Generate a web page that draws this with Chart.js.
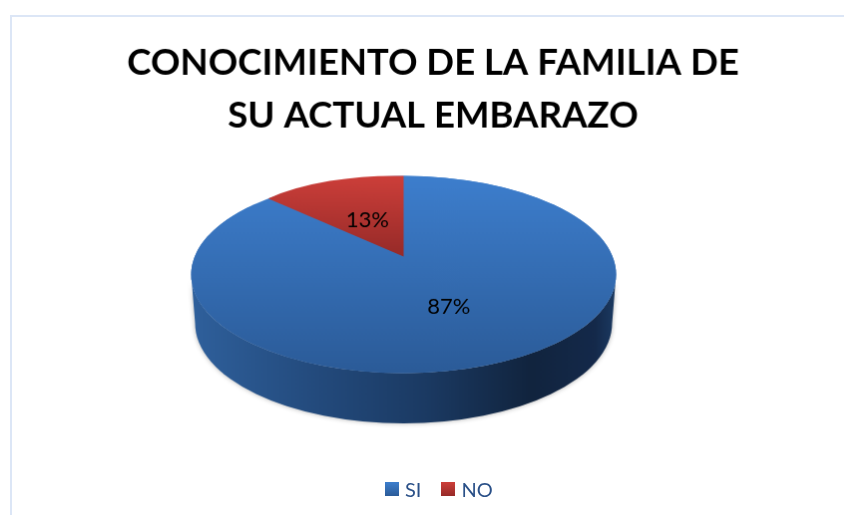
<!DOCTYPE html>
<html>
<head>
<meta charset="utf-8">
<title>Conocimiento de la familia</title>
<script src="https://cdn.jsdelivr.net/npm/chart.js@4"></script>
<style>
    html, body { margin: 0; padding: 0; background: #fff; overflow: hidden; }
    #grafico { position: absolute; left: 10px; top: 15px; border-left: 2px solid #dce6f6; border-top: 2px solid #dce6f6; }
    #leyenda { position: absolute; left: 385px; top: 477px; display: flex; font: 20px/24px Lato; color: #2a5088; }
    #leyenda span { display: flex; align-items: center; margin-right: 20px; }
    #leyenda i { display: block; width: 14px; height: 14px; margin-right: 6px; }
</style>
</head>
<body>
<canvas id="grafico" width="844" height="500"></canvas>
<div id="leyenda"></div>
<script>
// Datos del gráfico
const categorias = ['SI', 'NO'];
const valores = [87, 13];
const tituloLineas = ['CONOCIMIENTO DE LA FAMILIA DE', 'SU ACTUAL EMBARAZO'];

// Colores (arriba, abajo) de cada porción
const coloresPorcion = [['#3d7ecd', '#2b5b98'], ['#cd3f3a', '#962a28']];

// Vista en perspectiva: elipse superior, pared lateral y desplazamiento del centro
const vista = { cx: 392.5, cy: 258.5, rx: 213, ry: 99, k: 0.182, baseRx: 209, baseRy: 100.5, baseCy: 307.5 };

// Distancia de cada etiqueta al centro de la porción
const radioEtiqueta = [0.5, 0.47];

// Círculo unidad -> elipse, con el centro desplazado por la perspectiva
function proyectar(u, v) {
    const den = 1 - vista.k * v;
    return {
        x: vista.cx + vista.rx * u * Math.sqrt(1 - vista.k * vista.k) / den,
        y: vista.cy + vista.ry * (v - vista.k) / den
    };
}

function gradientePorcion(chart, i) {
    const area = chart.chartArea;
    if (!area) return coloresPorcion[i][0];
    const y = (area.top + area.bottom) / 2;
    const r = Math.min(area.width, area.height) / 2;
    const g = chart.ctx.createLinearGradient(0, y - r, 0, i === 0 ? y + r : y);
    g.addColorStop(0, coloresPorcion[i][0]);
    g.addColorStop(1, coloresPorcion[i][1]);
    return g;
}

// Transformación de cada porción según sus ángulos
function aplicarMatriz(ctx, arc) {
    const R = arc.outerRadius;
    let a, b, c, d, x0, y0;
    if (arc.circumference > Math.PI) {
        a = vista.rx / R; b = 0; c = 0; d = vista.ry / R;
        x0 = vista.cx; y0 = vista.cy;
    } else {
        const p0 = proyectar(0, 0);
        const p1 = proyectar(Math.cos(arc.startAngle), Math.sin(arc.startAngle));
        const p2 = proyectar(Math.cos(arc.endAngle), Math.sin(arc.endAngle));
        const x1 = R * Math.cos(arc.startAngle), y1 = R * Math.sin(arc.startAngle);
        const x2 = R * Math.cos(arc.endAngle), y2 = R * Math.sin(arc.endAngle);
        const det = x1 * y2 - x2 * y1;
        a = ((p1.x - p0.x) * y2 - (p2.x - p0.x) * y1) / det;
        c = ((p2.x - p0.x) * x1 - (p1.x - p0.x) * x2) / det;
        b = ((p1.y - p0.y) * y2 - (p2.y - p0.y) * y1) / det;
        d = ((p2.y - p0.y) * x1 - (p1.y - p0.y) * x2) / det;
        x0 = p0.x; y0 = p0.y;
    }
    ctx.transform(a, b, c, d, x0 - a * arc.x - c * arc.y, y0 - b * arc.x - d * arc.y);
}

const pastel3d = {
    id: 'pastel3d',
    beforeDatasetDraw(chart) {
        const ctx = chart.ctx;
        const arcos = chart.getDatasetMeta(0).data;

        // Pared lateral
        const pared = ctx.createLinearGradient(vista.cx - vista.rx, 0, vista.cx + vista.rx, 0);
        pared.addColorStop(0, '#2f609c');
        pared.addColorStop(0.3, '#234a7c');
        pared.addColorStop(0.55, '#1b3a63');
        pared.addColorStop(0.8, '#11243e');
        pared.addColorStop(0.95, '#14294a');
        pared.addColorStop(1, '#1c3b63');
        ctx.save();
        ctx.shadowColor = 'rgba(0,0,0,0.3)';
        ctx.shadowBlur = 5;
        ctx.beginPath();
        ctx.ellipse(vista.cx, vista.cy, vista.rx, vista.ry, 0, 0, Math.PI);
        ctx.ellipse(vista.cx, vista.baseCy, vista.baseRx, vista.baseRy, 0, Math.PI, 0, true);
        ctx.closePath();
        ctx.fillStyle = pared;
        ctx.fill();
        ctx.restore();

        // Disco superior
        ctx.save();
        aplicarMatriz(ctx, arcos[0]);
        ctx.beginPath();
        ctx.arc(arcos[0].x, arcos[0].y, arcos[0].outerRadius, 0, Math.PI * 2);
        ctx.fillStyle = gradientePorcion(chart, 0);
        ctx.fill();
        ctx.restore();

        // Porciones dibujadas por la librería
        arcos.forEach(arc => {
            ctx.save();
            aplicarMatriz(ctx, arc);
            arc.draw(ctx);
            ctx.restore();
        });

        // Etiquetas de porcentaje
        ctx.save();
        ctx.fillStyle = '#000';
        ctx.font = '22px Lato';
        ctx.textAlign = 'center';
        ctx.textBaseline = 'middle';
        arcos.forEach((arc, i) => {
            const medio = (arc.startAngle + arc.endAngle) / 2;
            const r = radioEtiqueta[i];
            const p = proyectar(r * Math.cos(medio), r * Math.sin(medio));
            ctx.fillText(valores[i] + '%', p.x, p.y + 2);
        });
        ctx.restore();
        return false;
    }
};

const ctx = document.getElementById('grafico').getContext('2d');
new Chart(ctx, {
    type: 'pie',
    data: {
        labels: categorias,
        datasets: [{
            data: valores,
            borderWidth: 0,
            backgroundColor: c => gradientePorcion(c.chart, c.dataIndex)
        }]
    },
    options: {
        responsive: false,
        animation: false,
        plugins: {
            tooltip: { enabled: false },
            legend: { display: false },
            title: {
                display: true,
                text: tituloLineas,
                color: '#000',
                font: { family: 'Lato', size: 36.6, weight: 'bold', lineHeight: 1.45 },
                padding: { top: 20, bottom: 10 }
            }
        }
    },
    plugins: [pastel3d]
});

// Leyenda
categorias.forEach((texto, i) => {
    const item = document.createElement('span');
    const caja = document.createElement('i');
    caja.style.background = `linear-gradient(${coloresPorcion[i][0]}, ${coloresPorcion[i][1]})`;
    item.append(caja, texto);
    document.getElementById('leyenda').append(item);
});
</script>
</body>
</html>
